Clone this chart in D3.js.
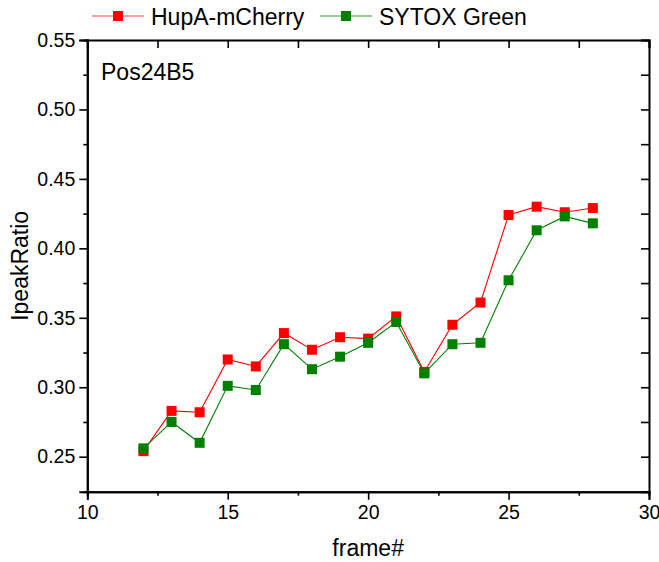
<!DOCTYPE html>
<html><head><meta charset="utf-8">
<script src="https://cdn.jsdelivr.net/npm/d3@7"></script>
<style>body{margin:0;background:#fff}svg{display:block}text{font-family:"Liberation Sans",Arial,sans-serif;fill:#000}</style>
</head><body><svg id="c" width="659" height="562"></svg>
<script>
const frames = [12,13,14,15,16,17,18,19,20,21,22,23,24,25,26,27,28];
const hupA = [0.254,0.283,0.282,0.320,0.315,0.339,0.327,0.336,0.335,0.351,0.311,0.345,0.361,0.424,0.430,0.426,0.429];
const sytox = [0.256,0.275,0.260,0.301,0.298,0.331,0.313,0.322,0.332,0.347,0.310,0.331,0.332,0.377,0.413,0.423,0.418];
const xTicks = [10,15,20,25,30];
const yTicks = [0.25,0.30,0.35,0.40,0.45,0.50,0.55];
const seriesNames = ["HupA-mCherry","SYTOX Green"];

const svg = d3.select("#c");
const L=87.3,R=649,T=40,B=491.7;
const x = d3.scaleLinear().domain([10,30]).range([L,R]);
const y = d3.scaleLinear().domain([0.2248,0.55]).range([B,T]);

const xMinor = d3.range(10,30.01,2.5);
const yMinor = d3.range(0.25,0.5501,0.025).map(v=>+v.toFixed(3));

const g = svg.append("g");
// bottom axis
const bx = g.append("g").attr("transform",`translate(0,${B})`)
  .call(d3.axisBottom(x).tickValues(xTicks).tickSize(8).tickPadding(5).tickFormat(d3.format("d")));
g.append("g").attr("transform",`translate(0,${B})`)
  .call(d3.axisBottom(x).tickValues(xMinor.filter(v=>!xTicks.includes(v))).tickSize(4).tickFormat(""));
// left axis
g.append("g").attr("transform",`translate(${L},0)`)
  .call(d3.axisLeft(y).tickValues(yTicks).tickSize(8).tickPadding(4).tickFormat(d3.format(".2f")));
g.append("g").attr("transform",`translate(${L},0)`)
  .call(d3.axisLeft(y).tickValues(yMinor.filter(v=>!yTicks.some(t=>Math.abs(t-v)<1e-6))).tickSize(4).tickFormat(""));
// top axis (inward)
g.append("g").attr("transform",`translate(0,${T})`)
  .call(d3.axisTop(x).tickValues(xMinor).tickSize(-8).tickFormat(""));
// right axis (inward)
g.append("g").attr("transform",`translate(${R},0)`)
  .call(d3.axisRight(y).tickValues(yMinor).tickSize(-8).tickFormat(""));

g.selectAll(".domain").attr("stroke","#000").attr("stroke-width",2);
g.selectAll(".tick line").attr("stroke","#000").attr("stroke-width",1.6);
g.selectAll(".tick text").style("font-size","19.5px").style("font-family","Liberation Sans, Arial, sans-serif");
g.selectAll("path.domain").attr("d",function(){return d3.select(this).attr("d").replace(/M[^H]*H/, m=>m).replace(/[hv]-?\d+(\.\d+)?/g,"")});

// axis titles
svg.append("text").attr("x",(L+R)/2).attr("y",556).attr("text-anchor","middle").style("font-size","23px").text("frame#");
svg.append("text").attr("transform",`translate(28,${(T+B)/2}) rotate(-90)`).attr("text-anchor","middle").style("font-size","23px").text("IpeakRatio");
svg.append("text").attr("x",101).attr("y",80).style("font-size","23px").text("Pos24B5");

// series
const series = [{name:seriesNames[0],vals:hupA,color:"#ff0000",leg:"#ff8080"},{name:seriesNames[1],vals:sytox,color:"#008000",leg:"#70c070"}];
const line = d3.line().x((d,i)=>x(frames[i])).y(d=>y(d));
series.forEach(s=>{
  svg.append("path").attr("d",line(s.vals)).attr("fill","none").attr("stroke",s.color).attr("stroke-width",1.1);
});
series.forEach(s=>{
  svg.append("g").selectAll("rect").data(s.vals).join("rect")
    .attr("x",(d,i)=>x(frames[i])-5).attr("y",d=>y(d)-5).attr("width",10).attr("height",10).attr("fill",s.color);
});

// legend
const legX=[92,320];
series.forEach((s,i)=>{
  const lg = svg.append("g").attr("transform",`translate(${legX[i]},16)`);
  lg.append("line").attr("x1",0).attr("x2",52).attr("y1",0).attr("y2",0).attr("stroke",s.leg).attr("stroke-width",1.6);
  lg.append("rect").attr("x",21).attr("y",-5).attr("width",10).attr("height",10).attr("fill",s.color);
  lg.append("text").attr("x",59).attr("y",8.5).style("font-size","23px").text(s.name);
});
</script></body></html>
